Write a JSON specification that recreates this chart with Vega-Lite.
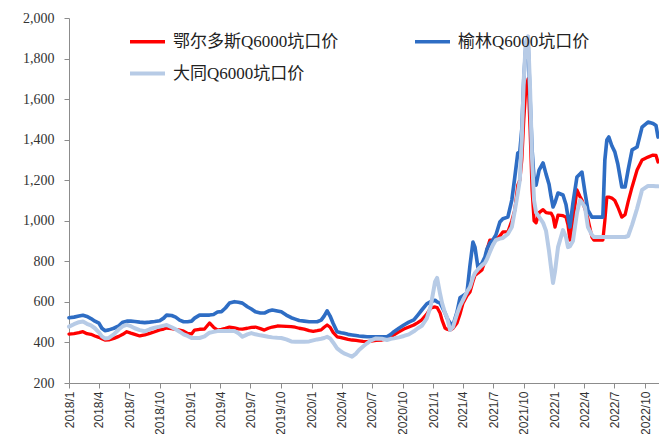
{
 "$schema": "https://vega.github.io/schema/vega-lite/v6.json",
 "width": 590, "height": 365,
 "autosize": {"type": "none"},
 "padding": {"left": 69, "top": 18, "right": 0, "bottom": 51},
 "background": "white",
 "config": {"view": {"stroke": null}},
 "data": {"values": [
  {"d":"2018-01-01","E":441,"Y":522,"D":478},
  {"d":"2018-01-16","E":444,"Y":525,"D":490},
  {"d":"2018-01-31","E":448,"Y":530,"D":500},
  {"d":"2018-02-12","E":453,"Y":534,"D":503},
  {"d":"2018-02-24","E":443,"Y":528,"D":492},
  {"d":"2018-03-08","E":440,"Y":518,"D":484},
  {"d":"2018-03-20","E":432,"Y":505,"D":470},
  {"d":"2018-04-01","E":425,"Y":495,"D":450},
  {"d":"2018-04-10","E":418,"Y":470,"D":430},
  {"d":"2018-04-19","E":412,"Y":458,"D":420},
  {"d":"2018-05-01","E":413,"Y":462,"D":422},
  {"d":"2018-05-16","E":420,"Y":470,"D":440},
  {"d":"2018-05-31","E":430,"Y":482,"D":465},
  {"d":"2018-06-12","E":440,"Y":500,"D":480},
  {"d":"2018-06-24","E":453,"Y":505,"D":487},
  {"d":"2018-07-06","E":446,"Y":505,"D":480},
  {"d":"2018-07-18","E":440,"Y":503,"D":470},
  {"d":"2018-08-02","E":432,"Y":500,"D":461},
  {"d":"2018-08-17","E":437,"Y":498,"D":455},
  {"d":"2018-09-01","E":445,"Y":500,"D":465},
  {"d":"2018-09-16","E":453,"Y":503,"D":473},
  {"d":"2018-10-01","E":462,"Y":507,"D":478},
  {"d":"2018-10-13","E":466,"Y":520,"D":483},
  {"d":"2018-10-22","E":471,"Y":535,"D":486},
  {"d":"2018-11-06","E":468,"Y":533,"D":475},
  {"d":"2018-11-18","E":464,"Y":525,"D":465},
  {"d":"2018-11-30","E":461,"Y":510,"D":453},
  {"d":"2018-12-12","E":456,"Y":502,"D":440},
  {"d":"2018-12-24","E":445,"Y":502,"D":432},
  {"d":"2019-01-05","E":442,"Y":505,"D":422},
  {"d":"2019-01-14","E":461,"Y":520,"D":422},
  {"d":"2019-01-29","E":465,"Y":535,"D":422},
  {"d":"2019-02-13","E":466,"Y":535,"D":430},
  {"d":"2019-02-28","E":496,"Y":535,"D":448},
  {"d":"2019-03-12","E":475,"Y":538,"D":452},
  {"d":"2019-03-24","E":461,"Y":550,"D":456},
  {"d":"2019-04-05","E":465,"Y":552,"D":456},
  {"d":"2019-04-17","E":470,"Y":570,"D":456},
  {"d":"2019-04-29","E":476,"Y":594,"D":456},
  {"d":"2019-05-14","E":472,"Y":601,"D":456},
  {"d":"2019-05-26","E":467,"Y":598,"D":445},
  {"d":"2019-06-07","E":466,"Y":594,"D":428},
  {"d":"2019-06-22","E":470,"Y":576,"D":440},
  {"d":"2019-07-04","E":474,"Y":565,"D":446},
  {"d":"2019-07-16","E":476,"Y":551,"D":440},
  {"d":"2019-07-31","E":468,"Y":545,"D":435},
  {"d":"2019-08-12","E":461,"Y":545,"D":432},
  {"d":"2019-08-24","E":470,"Y":555,"D":428},
  {"d":"2019-09-05","E":476,"Y":560,"D":425},
  {"d":"2019-09-20","E":481,"Y":555,"D":423},
  {"d":"2019-10-02","E":480,"Y":551,"D":422},
  {"d":"2019-10-17","E":479,"Y":535,"D":415},
  {"d":"2019-11-01","E":478,"Y":522,"D":405},
  {"d":"2019-11-13","E":475,"Y":515,"D":404},
  {"d":"2019-11-25","E":470,"Y":508,"D":404},
  {"d":"2019-12-10","E":466,"Y":505,"D":404},
  {"d":"2019-12-25","E":458,"Y":502,"D":405},
  {"d":"2020-01-06","E":455,"Y":502,"D":410},
  {"d":"2020-01-18","E":458,"Y":502,"D":415},
  {"d":"2020-01-30","E":462,"Y":510,"D":418},
  {"d":"2020-02-08","E":475,"Y":530,"D":422},
  {"d":"2020-02-17","E":486,"Y":556,"D":428},
  {"d":"2020-02-26","E":475,"Y":530,"D":420},
  {"d":"2020-03-06","E":450,"Y":495,"D":400},
  {"d":"2020-03-18","E":428,"Y":453,"D":371},
  {"d":"2020-03-30","E":424,"Y":448,"D":355},
  {"d":"2020-04-08","E":420,"Y":445,"D":346},
  {"d":"2020-04-20","E":415,"Y":440,"D":338},
  {"d":"2020-05-02","E":412,"Y":437,"D":330},
  {"d":"2020-05-14","E":410,"Y":434,"D":345},
  {"d":"2020-05-23","E":408,"Y":432,"D":363},
  {"d":"2020-06-04","E":405,"Y":430,"D":380},
  {"d":"2020-06-16","E":404,"Y":428,"D":396},
  {"d":"2020-06-28","E":406,"Y":428,"D":410},
  {"d":"2020-07-13","E":410,"Y":428,"D":420},
  {"d":"2020-07-31","E":412,"Y":428,"D":418},
  {"d":"2020-08-15","E":418,"Y":428,"D":412},
  {"d":"2020-08-27","E":428,"Y":440,"D":418},
  {"d":"2020-09-05","E":437,"Y":453,"D":420},
  {"d":"2020-09-20","E":452,"Y":470,"D":425},
  {"d":"2020-10-05","E":466,"Y":486,"D":432},
  {"d":"2020-10-20","E":476,"Y":500,"D":440},
  {"d":"2020-11-04","E":486,"Y":511,"D":455},
  {"d":"2020-11-16","E":498,"Y":535,"D":470},
  {"d":"2020-11-28","E":511,"Y":560,"D":482},
  {"d":"2020-12-13","E":540,"Y":590,"D":519},
  {"d":"2020-12-25","E":570,"Y":601,"D":580},
  {"d":"2021-01-07","E":575,"Y":608,"D":700},
  {"d":"2021-01-13","E":572,"Y":600,"D":718},
  {"d":"2021-01-22","E":545,"Y":594,"D":640},
  {"d":"2021-01-28","E":510,"Y":575,"D":594},
  {"d":"2021-02-06","E":471,"Y":545,"D":545},
  {"d":"2021-02-12","E":465,"Y":520,"D":525},
  {"d":"2021-02-21","E":461,"Y":496,"D":461},
  {"d":"2021-03-02","E":470,"Y":486,"D":476},
  {"d":"2021-03-14","E":496,"Y":550,"D":540},
  {"d":"2021-03-23","E":540,"Y":620,"D":580},
  {"d":"2021-04-01","E":594,"Y":630,"D":609},
  {"d":"2021-04-13","E":630,"Y":644,"D":650},
  {"d":"2021-04-22","E":649,"Y":780,"D":673},
  {"d":"2021-05-01","E":700,"Y":895,"D":720},
  {"d":"2021-05-07","E":730,"Y":870,"D":742},
  {"d":"2021-05-16","E":742,"Y":770,"D":760},
  {"d":"2021-05-28","E":757,"Y":790,"D":780},
  {"d":"2021-06-06","E":800,"Y":821,"D":792},
  {"d":"2021-06-12","E":856,"Y":860,"D":810},
  {"d":"2021-06-21","E":905,"Y":890,"D":846},
  {"d":"2021-06-30","E":905,"Y":905,"D":880},
  {"d":"2021-07-09","E":905,"Y":930,"D":905},
  {"d":"2021-07-21","E":925,"Y":994,"D":912},
  {"d":"2021-07-30","E":945,"Y":1010,"D":915},
  {"d":"2021-08-14","E":945,"Y":1018,"D":935},
  {"d":"2021-08-26","E":1000,"Y":1102,"D":969},
  {"d":"2021-09-04","E":1053,"Y":1216,"D":1050},
  {"d":"2021-09-13","E":1176,"Y":1334,"D":1137},
  {"d":"2021-09-19","E":1200,"Y":1340,"D":1200},
  {"d":"2021-09-25","E":1300,"Y":1450,"D":1400},
  {"d":"2021-10-01","E":1500,"Y":1700,"D":1700},
  {"d":"2021-10-07","E":1650,"Y":1860,"D":1880},
  {"d":"2021-10-14","E":1700,"Y":1880,"D":1910},
  {"d":"2021-10-20","E":1450,"Y":1600,"D":1650},
  {"d":"2021-10-26","E":1150,"Y":1350,"D":1300},
  {"d":"2021-11-01","E":1000,"Y":1200,"D":1100},
  {"d":"2021-11-07","E":990,"Y":1176,"D":1040},
  {"d":"2021-11-16","E":1040,"Y":1250,"D":1020},
  {"d":"2021-11-28","E":1055,"Y":1285,"D":990},
  {"d":"2021-12-07","E":1040,"Y":1230,"D":950},
  {"d":"2021-12-16","E":1038,"Y":1180,"D":850},
  {"d":"2021-12-22","E":1038,"Y":1120,"D":770},
  {"d":"2021-12-28","E":1020,"Y":1068,"D":693},
  {"d":"2022-01-03","E":969,"Y":1090,"D":750},
  {"d":"2022-01-12","E":1028,"Y":1137,"D":870},
  {"d":"2022-01-27","E":1025,"Y":1127,"D":954},
  {"d":"2022-02-05","E":1018,"Y":1080,"D":920},
  {"d":"2022-02-11","E":980,"Y":1020,"D":870},
  {"d":"2022-02-17","E":905,"Y":969,"D":875},
  {"d":"2022-02-26","E":1003,"Y":1088,"D":900},
  {"d":"2022-03-10","E":1152,"Y":1216,"D":1038},
  {"d":"2022-03-19","E":1120,"Y":1230,"D":1102},
  {"d":"2022-03-25","E":1102,"Y":1240,"D":1090},
  {"d":"2022-04-03","E":1060,"Y":1142,"D":1068},
  {"d":"2022-04-12","E":1010,"Y":1053,"D":969},
  {"d":"2022-04-24","E":920,"Y":1018,"D":930},
  {"d":"2022-04-30","E":905,"Y":1018,"D":920},
  {"d":"2022-05-27","E":905,"Y":1018,"D":920},
  {"d":"2022-06-02","E":1000,"Y":1300,"D":920},
  {"d":"2022-06-08","E":1117,"Y":1398,"D":920},
  {"d":"2022-06-14","E":1117,"Y":1413,"D":920},
  {"d":"2022-06-23","E":1112,"Y":1370,"D":920},
  {"d":"2022-07-02","E":1100,"Y":1340,"D":920},
  {"d":"2022-07-11","E":1068,"Y":1280,"D":920},
  {"d":"2022-07-23","E":1018,"Y":1167,"D":920},
  {"d":"2022-08-02","E":1030,"Y":1167,"D":920},
  {"d":"2022-08-11","E":1093,"Y":1250,"D":925},
  {"d":"2022-08-23","E":1167,"Y":1350,"D":980},
  {"d":"2022-09-07","E":1250,"Y":1364,"D":1060},
  {"d":"2022-09-22","E":1300,"Y":1462,"D":1152},
  {"d":"2022-10-10","E":1314,"Y":1487,"D":1172},
  {"d":"2022-10-25","E":1324,"Y":1480,"D":1172},
  {"d":"2022-11-03","E":1322,"Y":1470,"D":1170},
  {"d":"2022-11-09","E":1290,"Y":1413,"D":1170}
 ]},
 "transform": [{"fold": ["E", "Y", "D"], "as": ["s", "v"]}],
 "mark": {"type": "line", "strokeJoin": "round", "strokeCap": "round"},
 "encoding": {
  "x": {"field": "d", "type": "temporal",
   "scale": {"type": "utc", "domain": [{"year": 2018, "month": 1, "date": 1, "utc": true}, {"year": 2022, "month": 11, "date": 12, "utc": true}]},
   "axis": {"title": null, "labelExpr": "utcFormat(datum.value, '%Y/%-m')", "tickCount": {"interval": "month", "step": 3},
    "labelAngle": -90, "labelFont": "Liberation Sans", "labelFontSize": 12, "labelColor": "#333333",
    "tickSize": 5, "labelPadding": 3, "domainColor": "#8c8c8c", "tickColor": "#8c8c8c", "grid": false,
    "labelOverlap": false, "labelBound": false, "labelFlush": false}},
  "y": {"field": "v", "type": "quantitative",
   "scale": {"domain": [200, 2000], "nice": false, "zero": false},
   "axis": {"title": null, "values": [200, 400, 600, 800, 1000, 1200, 1400, 1600, 1800, 2000], "format": ",.0f",
    "labelFont": "Liberation Serif", "labelFontSize": 14, "labelColor": "#333333",
    "tickSize": 5, "labelPadding": 10, "domainColor": "#8c8c8c", "tickColor": "#8c8c8c", "grid": false}},
  "color": {"field": "s", "type": "nominal",
   "scale": {"domain": ["E", "Y", "D"], "range": ["#FF0000", "#2E6DC4", "#B7CBE6"]},
   "legend": {"title": null, "orient": "none", "legendX": 59, "legendY": 4, "direction": "horizontal", "columns": 2,
    "symbolType": "stroke", "symbolSize": 1225, "symbolStrokeWidth": 4,
    "labelFont": "'Liberation Serif', 'Noto Sans CJK SC'", "labelFontSize": 17, "labelColor": "#222222", "labelLimit": 400,
    "labelOffset": 6, "columnPadding": 68, "rowPadding": 4,
    "labelExpr": "datum.value == 'E' ? '鄂尔多斯Q6000坑口价' : datum.value == 'Y' ? '榆林Q6000坑口价' : '大同Q6000坑口价'"}},
  "strokeWidth": {"field": "s", "type": "nominal", "scale": {"domain": ["E", "Y", "D"], "range": [3.3, 4, 4]}, "legend": null}
 }
}
